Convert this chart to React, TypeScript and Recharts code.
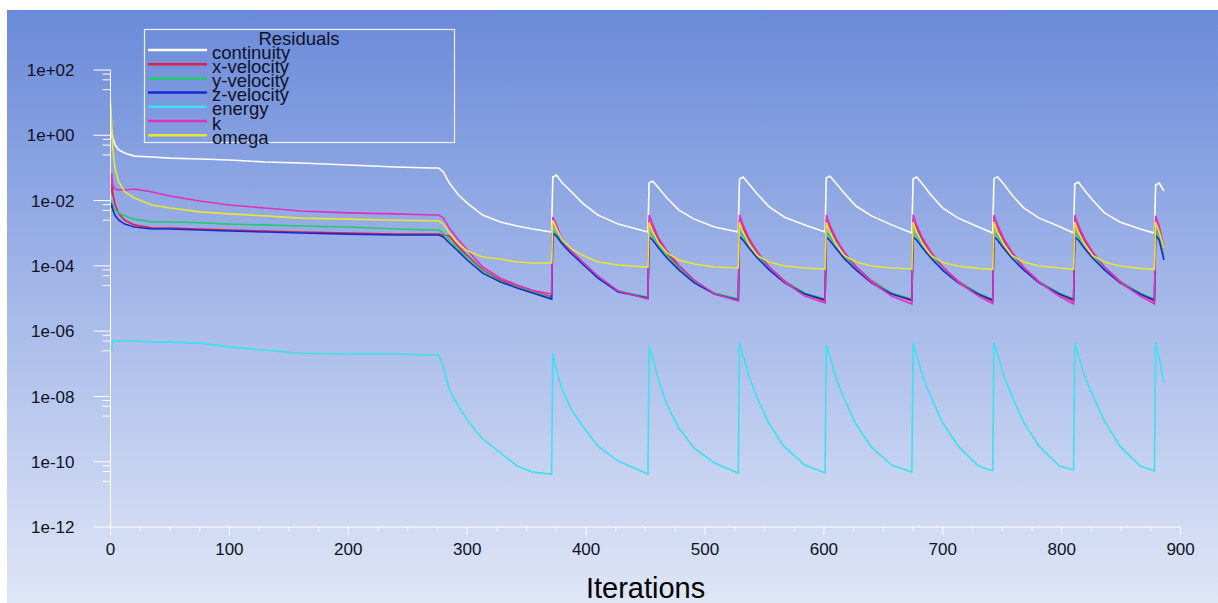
import React from "react";
import { LineChart, Line, XAxis, YAxis, Label } from "recharts";

const iterations = [
  0, 1, 2, 4, 7, 12, 20, 35, 50, 75, 100, 130, 160, 200, 240, 270, 276, 280, 285, 292, 300, 313, 328, 342, 355, 371,
  372, 375, 380, 387, 397, 410, 427, 452,
  453, 456, 461, 468, 478, 491, 508, 528,
  529, 532, 537, 544, 554, 567, 584, 601,
  602, 605, 610, 617, 627, 640, 657, 674,
  675, 678, 683, 690, 700, 713, 730, 742,
  743, 746, 751, 758, 768, 781, 798, 810,
  811, 814, 819, 826, 836, 849, 866, 878,
  879, 882, 886,
];

const continuity = [
  0.72, 1.45, 0.83, 0.5, 0.354, 0.286, 0.23, 0.216, 0.2, 0.188, 0.175, 0.152, 0.142, 0.123, 0.107, 0.0995, 0.0995, 0.075, 0.0345, 0.0159, 0.0084, 0.0036, 0.0022, 0.00166, 0.00135, 0.00109,
  0.0527, 0.061, 0.0345, 0.0196, 0.0084, 0.0036, 0.0019, 0.00109,
  0.0345, 0.0397, 0.0243, 0.012, 0.0051, 0.0027, 0.00155, 0.00109,
  0.0458, 0.0527, 0.0322, 0.0159, 0.0064, 0.0031, 0.0018, 0.00109,
  0.049, 0.0565, 0.0345, 0.0171, 0.0068, 0.0034, 0.0018, 0.00101,
  0.0458, 0.0527, 0.0322, 0.0148, 0.0059, 0.0029, 0.00155, 0.00101,
  0.047, 0.054, 0.033, 0.015, 0.006, 0.0029, 0.0016, 0.00102,
  0.0322, 0.037, 0.0211, 0.0104, 0.0042, 0.0022, 0.00135, 0.00101,
  0.03, 0.0345, 0.0196,
];

const xVelocity = [
  0.0148, 0.0427, 0.0148, 0.0073, 0.0039, 0.0025, 0.0018, 0.00144, 0.00144, 0.00135, 0.00125, 0.00117, 0.00109, 0.00101, 0.00094, 0.00094, 0.00094, 0.00088, 0.00082, 0.00041, 0.00021, 0.000075, 0.000037, 0.000024, 0.0000169, 0.0000111,
  0.0025, 0.00155, 0.00062, 0.00029, 0.000131, 0.000046, 0.0000169, 0.0000103,
  0.0025, 0.00144, 0.00062, 0.00025, 0.000092, 0.000034, 0.0000137, 0.000009,
  0.0026, 0.00144, 0.00062, 0.00025, 0.000092, 0.000034, 0.0000137, 0.0000084,
  0.0025, 0.0015, 0.00064, 0.00026, 0.000095, 0.000035, 0.000014, 0.0000084,
  0.0025, 0.00144, 0.00062, 0.00025, 0.000092, 0.000034, 0.0000137, 0.0000082,
  0.0024, 0.00144, 0.00062, 0.00025, 0.00009, 0.000033, 0.0000135, 0.0000084,
  0.0025, 0.00144, 0.00062, 0.00025, 0.000092, 0.000034, 0.0000137, 0.0000082,
  0.0025, 0.00144, 0.00035,
];

const yVelocity = [
  0.0073, 0.009, 0.0068, 0.0051, 0.0042, 0.0034, 0.0027, 0.0022, 0.0022, 0.0021, 0.0019, 0.0018, 0.00166, 0.00155, 0.00135, 0.00125, 0.00125, 0.00101, 0.00062, 0.00033, 0.000187, 0.00007, 0.000034, 0.0000225, 0.0000158, 0.0000103,
  0.00125, 0.00094, 0.00054, 0.00027, 0.000122, 0.000046, 0.0000169, 0.0000111,
  0.00109, 0.00082, 0.00044, 0.00021, 0.000086, 0.000032, 0.0000147, 0.0000096,
  0.00112, 0.00082, 0.00045, 0.00021, 0.000086, 0.000032, 0.0000147, 0.0000094,
  0.00109, 0.0008, 0.00044, 0.00021, 0.000088, 0.000033, 0.0000147, 0.0000096,
  0.00109, 0.00082, 0.00044, 0.00021, 0.000086, 0.000032, 0.0000145, 0.0000094,
  0.0011, 0.00082, 0.00044, 0.00021, 0.000086, 0.000032, 0.0000147, 0.0000096,
  0.00109, 0.00082, 0.00044, 0.00021, 0.000086, 0.000032, 0.0000147, 0.0000094,
  0.00144, 0.00082, 0.000187,
];

const zVelocity = [
  0.0059, 0.0073, 0.0051, 0.0034, 0.0025, 0.0019, 0.00155, 0.00135, 0.00135, 0.00125, 0.00117, 0.00109, 0.00101, 0.00094, 0.00088, 0.00088, 0.00088, 0.00077, 0.0005, 0.00029, 0.000151, 0.00006, 0.000032, 0.000021, 0.0000147, 0.0000096,
  0.00101, 0.00082, 0.00047, 0.00025, 0.000114, 0.000042, 0.0000158, 0.0000103,
  0.00077, 0.00062, 0.00035, 0.000174, 0.000075, 0.00003, 0.0000137, 0.000009,
  0.0008, 0.00062, 0.00035, 0.000174, 0.000075, 0.00003, 0.0000137, 0.0000092,
  0.00077, 0.0006, 0.00035, 0.00017, 0.000075, 0.00003, 0.0000137, 0.000009,
  0.00077, 0.00062, 0.00035, 0.000174, 0.000073, 0.00003, 0.0000135, 0.000009,
  0.00078, 0.00062, 0.00035, 0.000174, 0.000075, 0.00003, 0.0000137, 0.0000092,
  0.00077, 0.00062, 0.00035, 0.000174, 0.000075, 0.00003, 0.0000137, 0.000009,
  0.00088, 0.00062, 0.000151,
];

const energy = [
  2.3e-7, 3.0e-7, 5.0e-7, 5.1e-7, 4.9e-7, 5.0e-7, 5.0e-7, 4.6e-7, 4.6e-7, 4.3e-7, 3.3e-7, 2.6e-7, 2.1e-7, 2.0e-7, 2.0e-7, 1.85e-7, 1.85e-7, 8.0e-8, 1.6e-8, 5.5e-9, 1.9e-9, 5.0e-10, 1.85e-10, 7.4e-11, 4.8e-11, 4.2e-11,
  2.1e-7, 6.4e-8, 1.6e-8, 4.4e-9, 1.24e-9, 3.0e-10, 1.05e-10, 4.2e-11,
  3.5e-7, 1.5e-7, 3.2e-8, 5.5e-9, 1.08e-9, 2.6e-10, 9.1e-11, 4.5e-11,
  4.3e-7, 1.85e-7, 4.2e-8, 8.9e-9, 1.43e-9, 2.8e-10, 7.9e-11, 4.5e-11,
  3.8e-7, 1.7e-7, 3.9e-8, 8.3e-9, 1.43e-9, 2.8e-10, 7.9e-11, 4.8e-11,
  4.3e-7, 1.85e-7, 4.2e-8, 9.6e-9, 1.53e-9, 3.0e-10, 7.4e-11, 5.2e-11,
  4.6e-7, 2.0e-7, 4.5e-8, 1.03e-8, 1.64e-9, 3.0e-10, 7.4e-11, 5.6e-11,
  4.3e-7, 1.85e-7, 4.5e-8, 1.1e-8, 1.76e-9, 3.0e-10, 7.4e-11, 5.2e-11,
  4.6e-7, 1.5e-7, 2.6e-8,
];

const k = [
  0.0243, 0.07, 0.0279, 0.0226, 0.0211, 0.0211, 0.0226, 0.0183, 0.0138, 0.0097, 0.0073, 0.0059, 0.0048, 0.0042, 0.0039, 0.0036, 0.0036, 0.0029, 0.00144, 0.00066, 0.00031, 0.000092, 0.000042, 0.000026, 0.000018, 0.0000137,
  0.0031, 0.0018, 0.00062, 0.00029, 0.000131, 0.000049, 0.0000169, 0.0000096,
  0.0036, 0.0019, 0.00071, 0.00029, 0.000106, 0.000037, 0.0000137, 0.0000084,
  0.0036, 0.0018, 0.00071, 0.00027, 0.000092, 0.000032, 0.0000119, 0.0000073,
  0.0036, 0.0018, 0.00071, 0.00027, 0.000092, 0.000032, 0.0000119, 0.0000068,
  0.0037, 0.0018, 0.0007, 0.00027, 0.000092, 0.000032, 0.0000119, 0.000007,
  0.0036, 0.0018, 0.00071, 0.00027, 0.00009, 0.000032, 0.0000117, 0.0000068,
  0.0036, 0.0018, 0.00071, 0.00027, 0.000092, 0.000032, 0.0000119, 0.0000068,
  0.0034, 0.00166, 0.00035,
];

const omega = [
  10.5, 2.07, 0.354, 0.086, 0.037, 0.0183, 0.012, 0.0073, 0.0059, 0.0045, 0.0039, 0.0034, 0.0029, 0.0027, 0.0025, 0.0024, 0.0024, 0.0019, 0.00101, 0.0005, 0.00029, 0.000187, 0.000162, 0.000131, 0.000122, 0.000122,
  0.0025, 0.00144, 0.00062, 0.00035, 0.00021, 0.000131, 0.000106, 0.000092,
  0.0022, 0.00117, 0.0005, 0.00025, 0.000151, 0.000114, 0.000092, 0.000086,
  0.0022, 0.00109, 0.00047, 0.00021, 0.000131, 0.000099, 0.000086, 0.00008,
  0.0022, 0.00109, 0.00047, 0.00021, 0.000131, 0.000099, 0.000086, 0.00008,
  0.0022, 0.00109, 0.00047, 0.00021, 0.000128, 0.000097, 0.000084, 0.000078,
  0.0022, 0.00112, 0.00047, 0.00021, 0.000131, 0.000099, 0.000086, 0.00008,
  0.0022, 0.00109, 0.00047, 0.00021, 0.000131, 0.000099, 0.000084, 0.000078,
  0.0022, 0.00109, 0.00035,
];

const xMajorTicks = [0, 100, 200, 300, 400, 500, 600, 700, 800, 900];
const xMinorTicks = [
  25, 50, 75, 125, 150, 175, 225, 250, 275, 325, 350, 375, 425, 450, 475,
  525, 550, 575, 625, 650, 675, 725, 750, 775, 825, 850, 875,
];
const yMajorTicks = [1e2, 1, 1e-2, 1e-4, 1e-6, 1e-8, 1e-10, 1e-12];
const yTickLabels = ["1e+02", "1e+00", "1e-02", "1e-04", "1e-06", "1e-08", "1e-10", "1e-12"];
const yMinorTicks = [
  75, 50, 25, 0.75, 0.5, 0.25, 7.5e-3, 5e-3, 2.5e-3, 7.5e-5, 5e-5, 2.5e-5,
  7.5e-7, 5e-7, 2.5e-7, 7.5e-9, 5e-9, 2.5e-9, 7.5e-11, 5e-11, 2.5e-11,
];

const series = [
  { key: "continuity", name: "continuity", color: "#ffffff", values: continuity },
  { key: "xVelocity", name: "x-velocity", color: "#e0204a", values: xVelocity },
  { key: "yVelocity", name: "y-velocity", color: "#22cc66", values: yVelocity },
  { key: "zVelocity", name: "z-velocity", color: "#1a28d0", values: zVelocity },
  { key: "energy", name: "energy", color: "#3ee0ec", values: energy },
  { key: "k", name: "k", color: "#e030c0", values: k },
  { key: "omega", name: "omega", color: "#e6e632", values: omega },
];

const data = iterations.map((iter, i) => {
  const row: Record<string, number> = { iter };
  series.forEach((s) => {
    row[s.key] = s.values[i];
  });
  return row;
});

const FONT = '"Liberation Sans", Arial, sans-serif';
const TEXT = "#0d1226";
const Y_TICK = 17;
const Y_GAP = 19;
const X_TICK = 8;
const X_GAP = 8;

function YTick(props: any) {
  const { x, y, payload } = props;
  const v = payload.value;
  const axisX = x + Y_TICK + Y_GAP;
  const idx = yMajorTicks.findIndex((m) => Math.abs(Math.log10(m) - Math.log10(v)) < 1e-6);
  if (idx < 0) {
    return <line x1={axisX - 8} x2={axisX} y1={y} y2={y} stroke="#ffffff" strokeWidth={1} />;
  }
  return (
    <g>
      <line x1={axisX - Y_TICK} x2={axisX} y1={y} y2={y} stroke="#ffffff" strokeWidth={1} />
      <text x={x} y={y} dy="0.36em" textAnchor="end" fontSize={17} fontFamily={FONT} fill={TEXT}>
        {yTickLabels[idx]}
      </text>
    </g>
  );
}

function XTick(props: any) {
  const { x, y, payload } = props;
  const v = payload.value;
  const axisY = y - X_TICK - X_GAP;
  if (!xMajorTicks.includes(v)) {
    return <line x1={x} x2={x} y1={axisY} y2={axisY + 4} stroke="#ffffff" strokeWidth={1} />;
  }
  return (
    <g>
      <line x1={x} x2={x} y1={axisY} y2={axisY + X_TICK} stroke="#ffffff" strokeWidth={1} />
      <text x={x} y={y} dy="0.71em" textAnchor="middle" fontSize={17} fontFamily={FONT} fill={TEXT}>
        {v}
      </text>
    </g>
  );
}

function ResidualsLegend() {
  return (
    <svg
      width={1218}
      height={603}
      style={{ position: "absolute", left: 0, top: 0, pointerEvents: "none" }}
    >
      <rect x={144.5} y={29.5} width={310} height={113} fill="none" stroke="#eef2ff" strokeWidth={1.2} />
      <text x={299} y={45} textAnchor="middle" fontSize={18.5} fontFamily={FONT} fill={TEXT}>
        Residuals
      </text>
      {series.map((s, i) => {
        const ly = 50 + i * 14.2;
        return (
          <g key={s.key}>
            <line x1={148} x2={207} y1={ly} y2={ly} stroke={s.color} strokeWidth={2.5} />
            <text x={212} y={ly + 8.5} fontSize={18.5} fontFamily={FONT} fill={TEXT}>
              {s.name}
            </text>
          </g>
        );
      })}
    </svg>
  );
}

export default function App() {
  return (
    <div>
      <div
        style={{
          position: "absolute",
          left: 7,
          top: 10,
          width: 1211,
          height: 593,
          background: "linear-gradient(to bottom, #6a8ad9 0%, #a6b9e9 50%, #dfe6f6 100%)",
        }}
      >
        <LineChart
          width={1211}
          height={593}
          data={data}
          margin={{ top: 60, right: 37.4, bottom: 0, left: 3.5 }}
        >
          <XAxis
            dataKey="iter"
            type="number"
            domain={[0, 900]}
            ticks={[...xMajorTicks, ...xMinorTicks].sort((a, b) => a - b)}
            interval={0}
            height={76}
            tickSize={X_TICK}
            tickMargin={X_GAP}
            tickLine={false}
            tick={<XTick />}
            axisLine={{ stroke: "#ffffff", strokeWidth: 1 }}
          >
            <Label
              value="Iterations"
              position="insideBottom"
              offset={5}
              style={{ fontSize: 29, fontFamily: FONT, fill: "#000000" }}
            />
          </XAxis>
          <YAxis
            type="number"
            scale="log"
            domain={[1e-12, 1e2]}
            allowDataOverflow
            ticks={[...yMajorTicks, ...yMinorTicks]}
            interval={0}
            width={100}
            tickSize={Y_TICK}
            tickMargin={Y_GAP}
            tickLine={false}
            tick={<YTick />}
            axisLine={{ stroke: "#ffffff", strokeWidth: 1 }}
          />
          {series.map((s) => (
            <Line
              key={s.key}
              dataKey={s.key}
              name={s.name}
              stroke={s.color}
              strokeWidth={1.6}
              dot={false}
              isAnimationActive={false}
            />
          ))}
        </LineChart>
      </div>
      <ResidualsLegend />
    </div>
  );
}
